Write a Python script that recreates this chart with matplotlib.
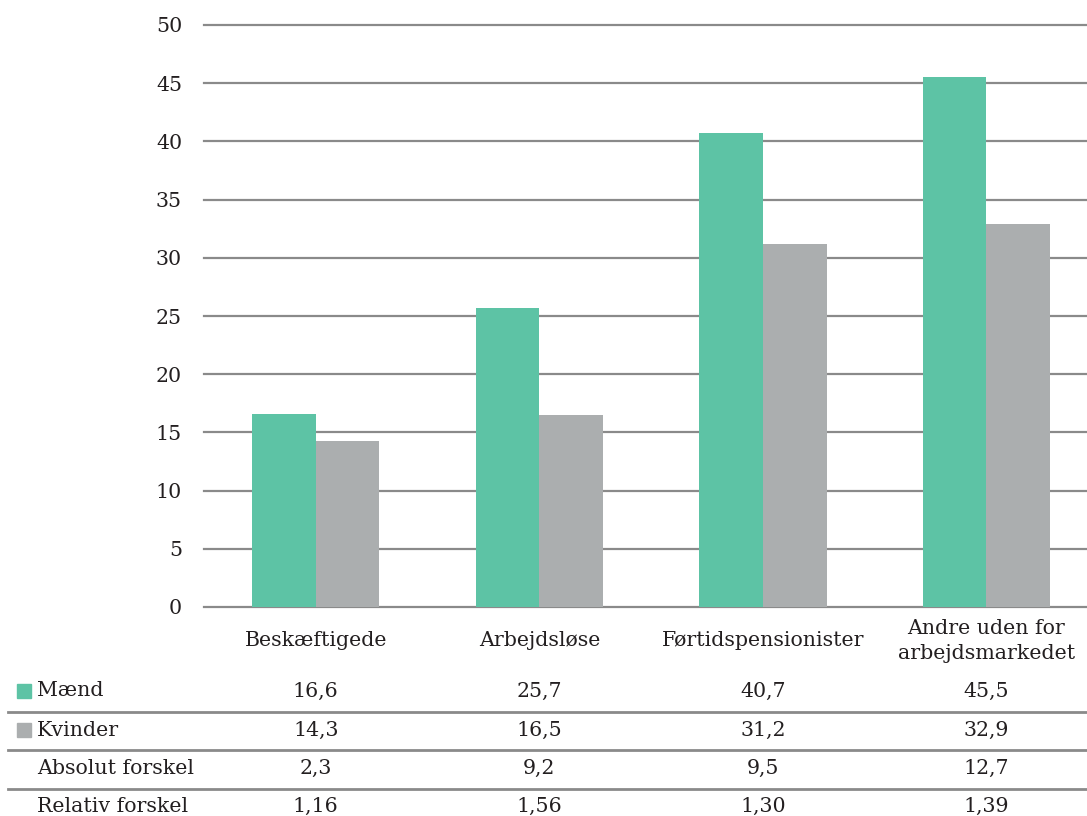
import matplotlib
matplotlib.use("Agg")
import matplotlib.pyplot as plt
import matplotlib.transforms as mtransforms
from matplotlib.patches import Rectangle
from matplotlib.lines import Line2D

categories = ["Beskæftigede", "Arbejdsløse", "Førtidspensionister", "Andre uden for\narbejdsmarkedet"]
maend = [16.6, 25.7, 40.7, 45.5]
kvinder = [14.3, 16.5, 31.2, 32.9]
absolut = ["2,3", "9,2", "9,5", "12,7"]
relativ = ["1,16", "1,56", "1,30", "1,39"]
yticks = [0, 5, 10, 15, 20, 25, 30, 35, 40, 45, 50]

GREEN = "#5DC3A5"
GREY = "#ABAEAF"
LINE = "#8A8A8A"
TXT = "#231F20"

plt.rcParams['font.family'] = ['DejaVu Serif']
plt.rcParams['font.size'] = 14.8

W, H = 1087, 816
fig = plt.figure(figsize=(W / 100, H / 100), dpi=100)
ax = fig.add_axes([204 / W, 1 - 607 / H, 1 - 204 / W, (607 - 25) / H])

x = list(range(len(categories)))
bw = 0.285
ax.bar([i - bw / 2 for i in x], maend, width=bw, color=GREEN, zorder=3)
ax.bar([i + bw / 2 for i in x], kvinder, width=bw, color=GREY, zorder=3)

ax.set_xlim(-0.5, 3.45)
ax.set_ylim(0, 50)
ax.set_yticks(yticks)
ax.set_yticklabels([str(t) for t in yticks], color=TXT)
ax.tick_params(axis='y', length=0, pad=15.8)
ax.set_xticks([])
for s in ax.spines.values():
    s.set_visible(False)
ax.yaxis.grid(True, color=LINE, linewidth=1.6, zorder=0)
for gl in ax.get_ygridlines():
    gl.set_clip_on(False)
ax.set_axisbelow(True)

trans = mtransforms.blended_transform_factory(ax.transData, fig.transFigure)

def fy(py):
    return 1 - py / H

for i, c in enumerate(categories):
    ax.text(i, fy(641), c, transform=trans, ha='center', va='center', color=TXT,
            linespacing=1.4)

rows = [("Mænd", [str(v).replace('.', ',') for v in maend], GREEN, 691),
        ("Kvinder", [str(v).replace('.', ',') for v in kvinder], GREY, 730),
        ("Absolut forskel", absolut, None, 768),
        ("Relativ forskel", relativ, None, 806)]

for label, vals, col, py in rows:
    fig.text(37 / W, fy(py), label, ha='left', va='center', color=TXT)
    if col is not None:
        fig.patches.append(Rectangle((17 / W, fy(py + 7)), 14 / W, 14 / H,
                                     transform=fig.transFigure, color=col))
    for i, v in enumerate(vals):
        ax.text(i, fy(py), v, transform=trans, ha='center', va='center', color=TXT)

for py in [712, 750, 789]:
    fig.lines.append(Line2D([8 / W, 1.0], [fy(py), fy(py)], transform=fig.transFigure,
                            color=LINE, linewidth=2))

fig.savefig("out.png", dpi=100)
